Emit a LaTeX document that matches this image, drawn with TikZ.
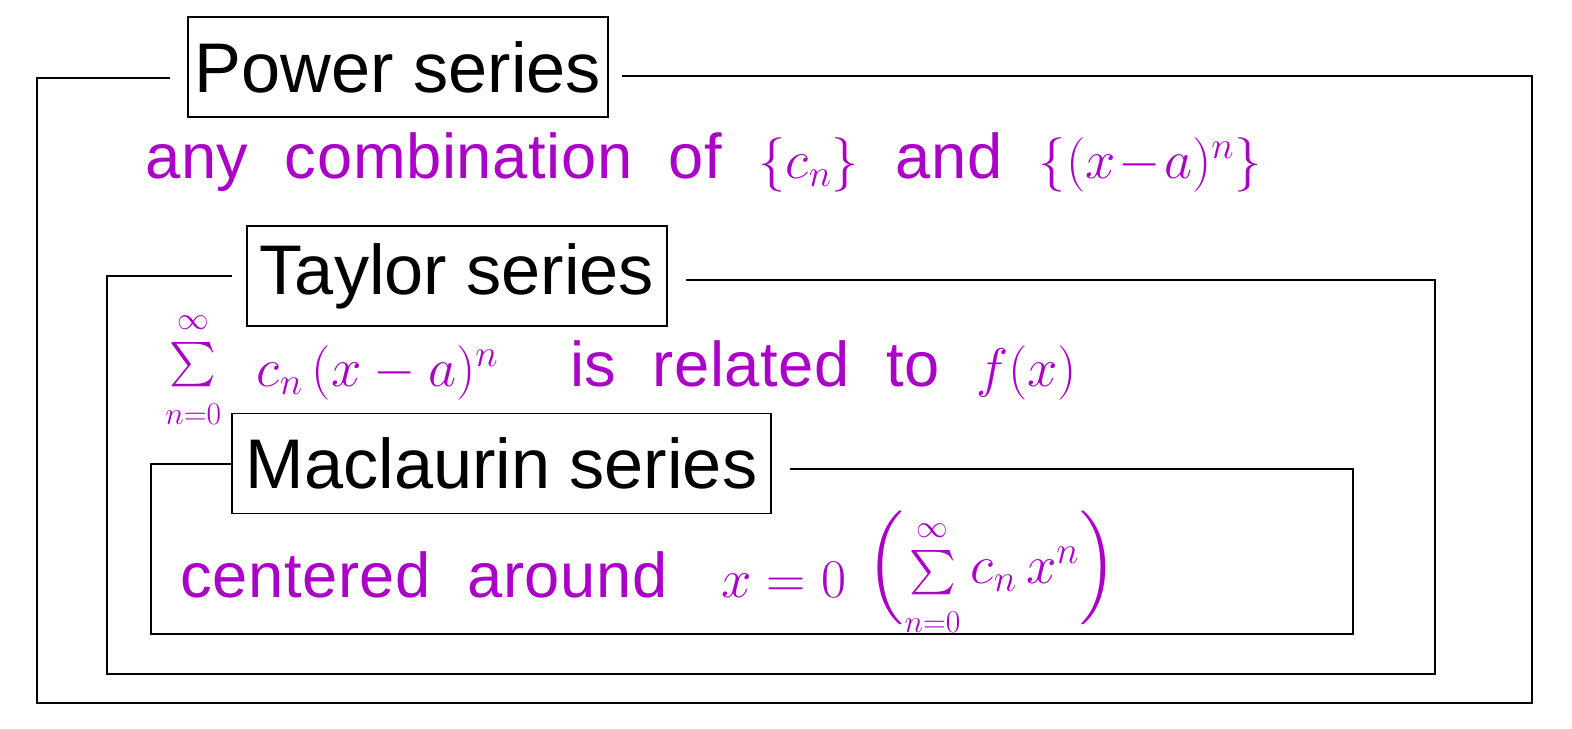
\RequirePackage{fix-cm}
\documentclass[tikz,border=0pt]{standalone}
\usepackage{amsmath,amssymb}
\usepackage{fontspec}
\setmainfont{Liberation Sans}
\newfontfamily\inkfont[LetterSpace=1,WordSpace=2.0]{Liberation Sans}
\usepackage{xcolor}
\usepackage{tikz}
\usetikzlibrary{positioning}

\definecolor{inkpurple}{RGB}{170,0,200}
\newcommand{\inkmath}[1]{{\fontsize{31}{37}\selectfont$#1$}}
\newcommand{\smallsum}{\mathop{\scriptstyle\sum}\limits_{\scriptscriptstyle n=0}^{\scriptscriptstyle\infty}}

\begin{document}
\begin{tikzpicture}[
    x=0.02cm, y=-0.02cm,
    node distance=0.3cm,
    titlebox/.style={rectangle, draw, line width=1.1pt, minimum height=2cm, inner sep=0pt, font=\fontsize{40}{48}\selectfont},
    frame/.style={line width=1.1pt},
    note/.style={inner sep=0pt, text=inkpurple, font=\inkfont\fontsize{36}{42}\selectfont},
]
\useasboundingbox (0,0) rectangle (1572,729);

% ---- Power series ----
\node[titlebox, minimum width=8.4cm] (power) at (398,67) {Power series};
\coordinate (powerL) at (170,78);
\coordinate (powerR) at (622,76);
\draw[frame] (powerL) -- (37,78) -- (37,703) -- (1532,703) -- (1532,76) -- (powerR);
\node[note, anchor=west] (powernote) at (145,162) {any combination of \inkmath{\{c_n\}} and \inkmath{\{(x\!-\!a)^n\}}};

% ---- Taylor series ----
\node[titlebox, minimum width=8.4cm] (taylor) at (457,276) {Taylor series};
\coordinate (taylorL) at (232,276);
\coordinate (taylorR) at (686,280);
\draw[frame] (taylorL) -- (107,276) -- (107,674) -- (1435,674) -- (1435,280) -- (taylorR);
\node[note, anchor=west] (taylorsum) at (165,370) {$\smallsum$};
\node[note, right=0.7cm of taylorsum.east, anchor=west] (taylornote) {\inkmath{c_n\,(x-a)^n}\;\; is related to \inkmath{f(x)}};

% ---- Maclaurin series ----
\node[titlebox, minimum width=10.78cm] (maclaurin) at (501.5,463.5) {Maclaurin series};
\coordinate (maclaurinL) at (232,464);
\coordinate (maclaurinR) at (790,469);
\draw[frame] (maclaurinL) -- (151,464) -- (151,634) -- (1353,634) -- (1353,469) -- (maclaurinR);
\node[note, anchor=west] (maclaurinnote) at (180,575) {centered around \;\inkmath{x=0}};
\node[note, right=0.4cm of maclaurinnote.east, anchor=west] (maclaurinsum) {$\Bigl(\smallsum$\,\inkmath{c_n\,x^n}$\Bigr)$};

\end{tikzpicture}
\end{document}
